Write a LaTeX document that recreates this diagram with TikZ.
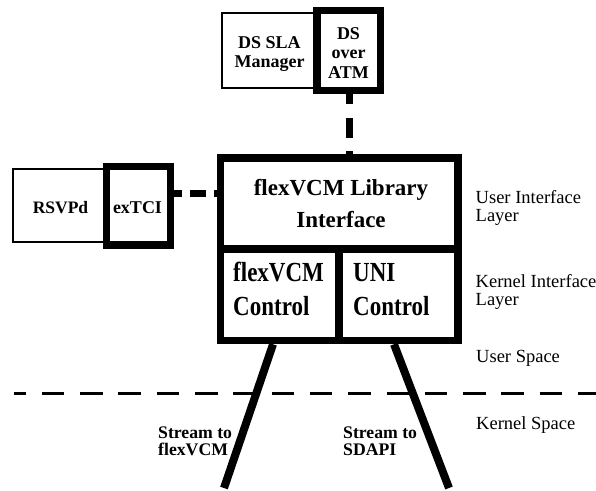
\documentclass[tikz,border=0pt]{standalone}
\usepackage{fontspec}
\setmainfont{Liberation Serif}
\usepackage{graphicx}
\newcommand\myfs[2]{\fontsize{#1}{#2}\selectfont}
\begin{document}
\begin{tikzpicture}[x=1pt,y=-1pt,
  thinbox/.style={draw, line width=2pt, inner sep=0pt, fill=white},
  thickbox/.style={draw, line width=7.5pt, inner sep=0pt},
  thickline/.style={line width=8pt},
  conn/.style={line width=7pt},
  txt/.style={inner sep=0pt, align=center, font=\bfseries\myfs{18}{19.5}},
  ctltxt/.style={inner sep=0pt, anchor=west, font=\bfseries\myfs{23}{28}},
  lbl/.style={inner sep=0pt, align=left, anchor=west, font=\myfs{18.5}{18}},
  slbl/.style={inner sep=0pt, align=left, anchor=west, font=\bfseries\myfs{17.7}{17}},
 ]
\useasboundingbox (0,0) rectangle (596,490);

% boxes (geometry)
\node[thinbox, minimum width=95pt, minimum height=75pt] (dssla) at (269.5,50.5) {};
\node[thickbox, fill=white, minimum width=63.5pt, minimum height=80pt] (dsatm) at (348.75,50.5) {};
\node[thinbox, minimum width=93.5pt, minimum height=73pt] (rsvpd) at (59.75,205.5) {};
\node[thickbox, fill=white, minimum width=64pt, minimum height=78.5pt] (extci) at (138.5,205.75) {};

% coordinates for free ends
\coordinate (s1bot) at (224,488);
\coordinate (s2bot) at (449,488);
\coordinate (dl) at (14,393.5);
\coordinate (dr) at (596,393.5);

% kernel / user divider
\draw[line width=3.3pt, dash pattern=on 22.5pt off 15.8pt, dash phase=10.5pt] (dl) -- (dr);

% library boxes
\node[thickbox, minimum width=237.5pt, minimum height=91pt] (lib) at (339.25,203.5) {};
\node[thickbox, minimum width=118.5pt, minimum height=91.5pt] (flexctl) at (279.75,294.75) {};
\node[thickbox, minimum width=119pt, minimum height=91.5pt] (unictl) at (398.5,294.75) {};

% streams
\draw[thickline] ([xshift=-6.75pt]flexctl.south) -- (s1bot);
\draw[thickline] ([xshift=-4.5pt]unictl.south) -- (s2bot);

% dashed connectors
\draw[conn, dash pattern=on 20pt off 13.5pt, dash phase=10pt] ([xshift=0.75pt]dsatm.south) -- ([xshift=0.75pt]dsatm.south |- lib.north);
\draw[conn, dash pattern=on 16pt off 8pt, dash phase=8.5pt] ([yshift=12.25pt]extci.east) -- ([yshift=12.25pt]extci.east -| lib.west);

% redraw boxes on top of connectors
\node[thickbox, minimum width=237.5pt, minimum height=91pt] at (lib) {};
\node[thickbox, minimum width=63.5pt, minimum height=80pt] at (dsatm) {};
\node[thickbox, minimum width=64pt, minimum height=78.5pt] at (extci) {};
\node[thickbox, minimum width=118.5pt, minimum height=91.5pt] at (flexctl) {};
\node[thickbox, minimum width=119pt, minimum height=91.5pt] at (unictl) {};

% texts
\node[txt] (dsslatxt) at (269.5,54) {DS SLA\\Manager};
\node[txt] (dsatmtxt) at (348.5,53) {DS\\over\\ATM};
\node[txt, font=\bfseries\myfs{17.5}{19}] (rsvpdtxt) at (60.5,208) {RSVPd};
\node[txt] (extcitxt) at (137.5,208) {exTCI};
\node[txt, font=\bfseries\myfs{23}{32}] (libtxt) at (341,204) {flexVCM Library\\Interface};
\node[ctltxt] (flexctltxt) at (233,292) {\scalebox{1}[1.2]{\begin{tabular}{@{}l@{}}flexVCM\\Control\end{tabular}}};
\node[ctltxt] (unictltxt) at (353,292) {\scalebox{1}[1.2]{\begin{tabular}{@{}l@{}}UNI\\Control\end{tabular}}};

\node[lbl] (uil) at (475.5,208) {User Interface\\Layer};
\node[lbl] (kil) at (475.5,292) {Kernel Interface\\Layer};
\node[lbl] (us) at (476,358) {User Space};
\node[lbl] (ks) at (476,425) {Kernel Space};

\node[slbl] (st1) at (158,441.5) {Stream to\\flexVCM};
\node[slbl] (st2) at (343,441.5) {Stream to\\SDAPI};
\end{tikzpicture}
\end{document}
